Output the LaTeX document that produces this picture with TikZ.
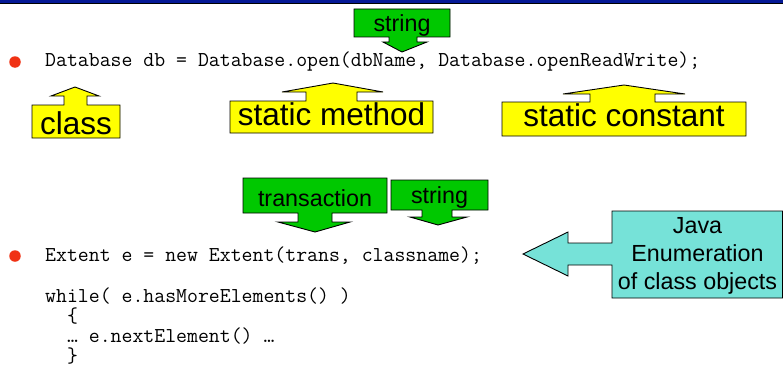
\documentclass[tikz,border=0pt]{standalone}
\usepackage{fontspec}
\setmainfont{Liberation Sans}
\definecolor{barblue}{RGB}{5,25,150}
\definecolor{bulletred}{RGB}{240,50,20}
\definecolor{noteyellow}{RGB}{255,255,0}
\definecolor{notegreen}{RGB}{0,200,0}
\definecolor{notecyan}{RGB}{118,226,216}
\begin{document}
\begin{tikzpicture}[x=1pt,y=-1pt,
  callout/.style={draw=black,line width=0.9pt,line join=miter},
  bigtext/.style={font=\fontsize{31.5}{31.5}\selectfont,inner sep=0pt,anchor=base},
  midtext/.style={font=\fontsize{23.3}{23.3}\selectfont,inner sep=0pt,anchor=base},
  codeline/.style={font=\ttfamily\fontsize{21.2}{21.2}\selectfont,inner sep=0pt,anchor=base west},
  bulletdot/.style={circle,fill=bulletred,inner sep=0pt,minimum size=11.5pt}]
\useasboundingbox (0,0) rectangle (783,369);

% title bar
\fill[barblue] (0,0) rectangle (783,3.6);
\draw[black,line width=1pt] (0,4) -- (783,4);

% bullets and code
\node[bulletdot] (b1) at (15,62) {};
\node[bulletdot] (b2) at (15,256) {};
\node[codeline] (l1) at (45,66.5) {Database db = Database.open(dbName, Database.openReadWrite);};
\node[codeline] (l2) at (45,261) {Extent e = new Extent(trans, classname);};
\node[codeline] (l3) at (45,302.5) {while( e.hasMoreElements() )};
\node[codeline] (l4) at (45,322.5) {\ \ \{};
\node[codeline] (l5) at (45,342.5) {\ \ … e.nextElement() …};
\node[codeline] (l6) at (45,362.5) {\ \ \}};

% green callouts pointing down
\draw[callout,fill=notegreen] (354,9) -- (450,9) -- (450,37) -- (417,37) -- (417,42)
  -- (427,42) -- (402,52) -- (383,42) -- (389,42) -- (389,37) -- (354,37) -- cycle;
\node[midtext] (s1) at (402,31.5) {string};

\draw[callout,fill=notegreen] (243,178) -- (387,178) -- (387,213) -- (332,213) -- (332,222)
  -- (350,222) -- (315,232) -- (278,222) -- (298,222) -- (298,213) -- (243,213) -- cycle;
\node[midtext] (t1) at (315,206) {transaction};

\draw[callout,fill=notegreen] (391,180) -- (488,180) -- (488,210) -- (452,210) -- (452,217)
  -- (467,217) -- (438,225) -- (410,217) -- (422,217) -- (422,210) -- (391,210) -- cycle;
\node[midtext] (s2) at (439.5,203.3) {string};

% yellow callouts pointing up
\draw[callout,fill=noteyellow] (32,138) -- (32,105) -- (64,105) -- (64,96) -- (51,96)
  -- (75,87) -- (99,96) -- (87,96) -- (87,105) -- (120,105) -- (120,138) -- cycle;
\node[bigtext] (c1) at (76,134) {class};

\draw[callout,fill=noteyellow] (230,133) -- (230,101) -- (306,101) -- (306,92) -- (282,92)
  -- (333,83) -- (383,92) -- (357,92) -- (357,101) -- (433,101) -- (433,133) -- cycle;
\node[bigtext] (m1) at (331.5,125) {static method};

\draw[callout,fill=noteyellow] (502,136) -- (502,102) -- (590,102) -- (590,94) -- (563,94)
  -- (624,85) -- (685,94) -- (655,94) -- (655,102) -- (746,102) -- (746,136) -- cycle;
\node[bigtext] (k1) at (624,126.7) {static constant};

% cyan callout pointing left
\draw[callout,fill=notecyan] (612,211) -- (782.5,211) -- (782.5,298) -- (612,298) -- (612,265)
  -- (568,265) -- (568,276) -- (523,254) -- (568,232) -- (568,243) -- (612,243) -- cycle;
\node[midtext] (j1) at (697.5,233.3) {Java};
\node[midtext] (j2) at (697.5,261.7) {Enumeration};
\node[midtext] (j3) at (697.5,289.3) {of class objects};
\end{tikzpicture}
\end{document}
